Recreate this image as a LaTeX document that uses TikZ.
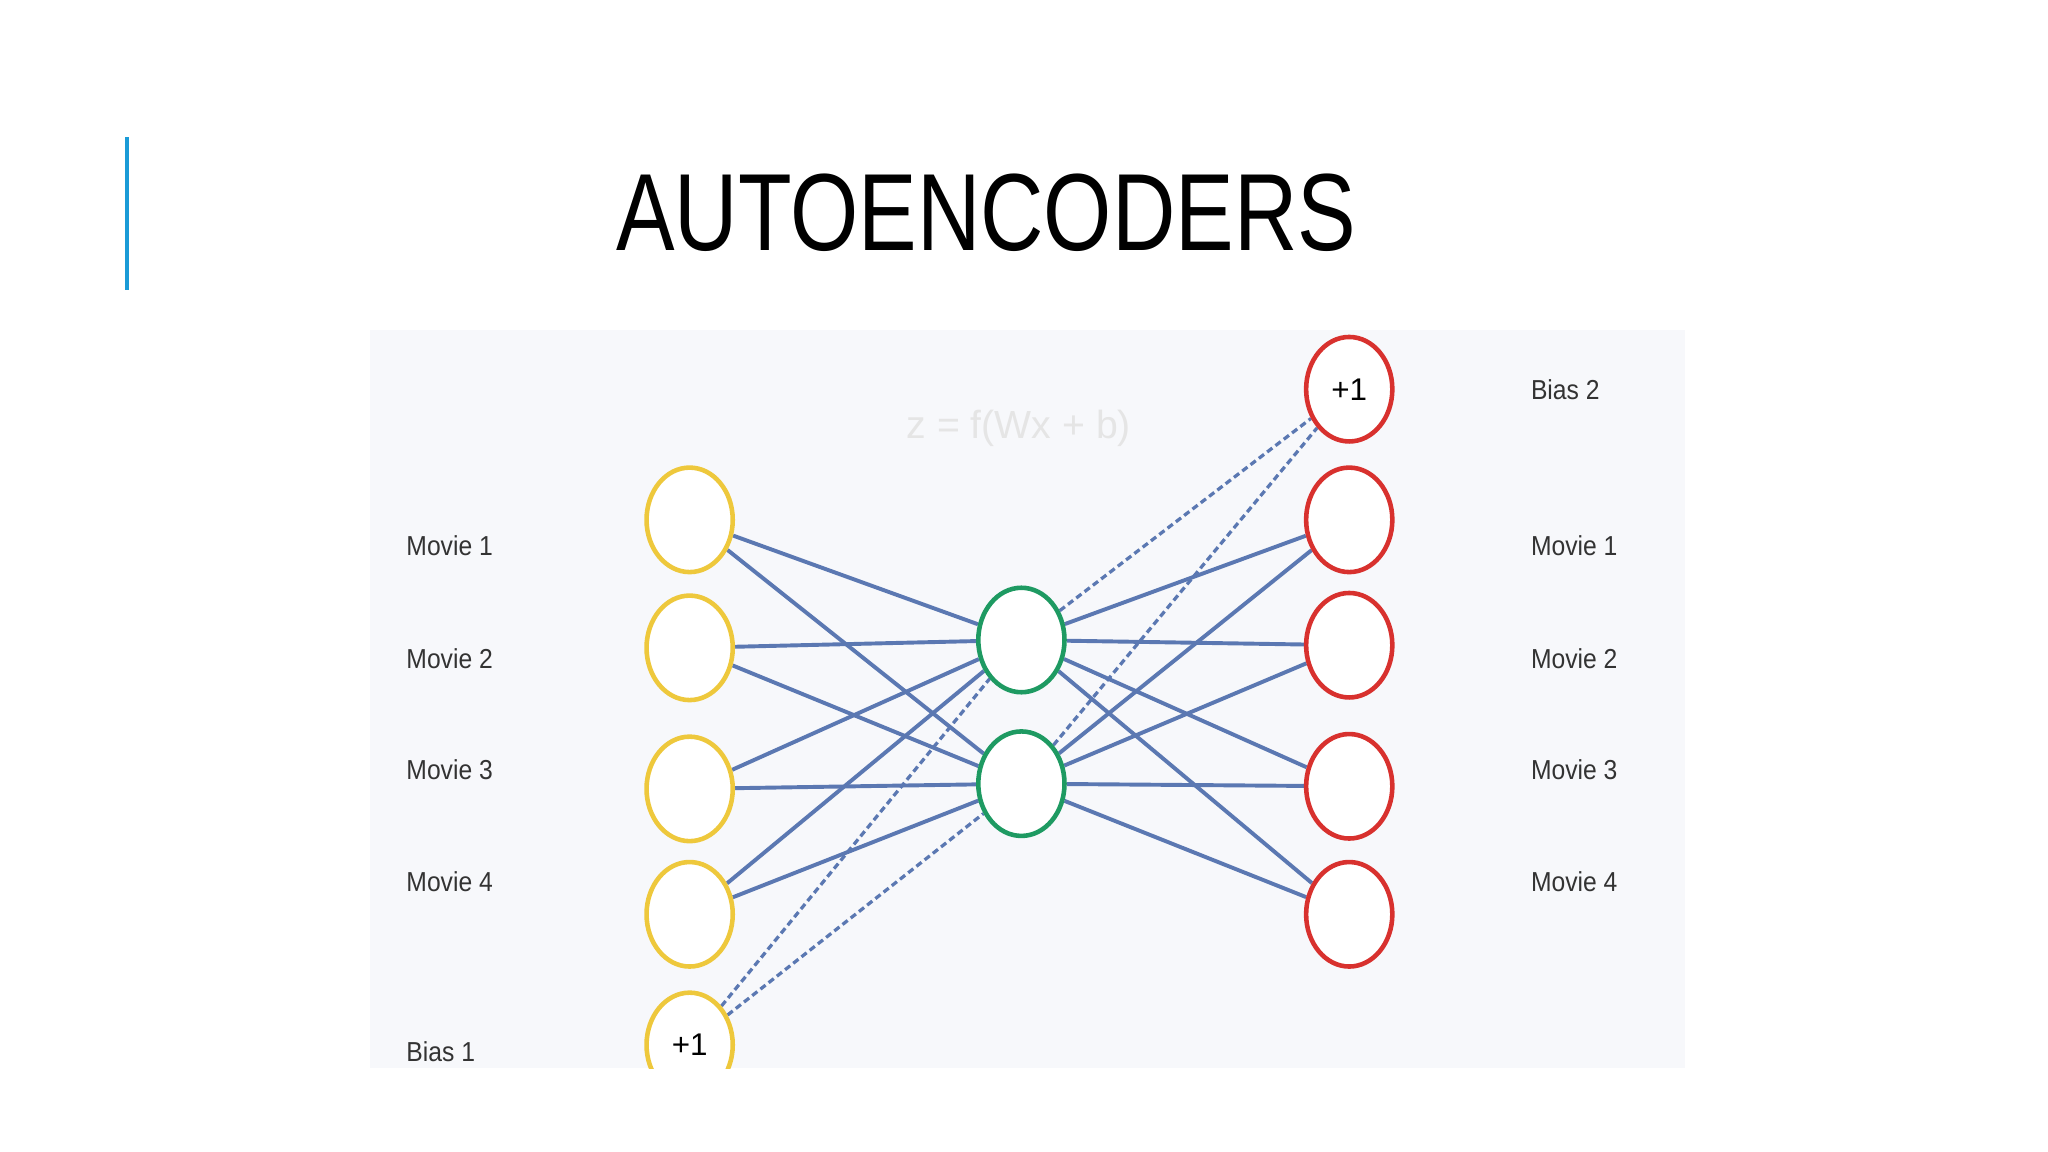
\documentclass[tikz,border=0pt]{standalone}
\usepackage{fontspec}
\setmainfont{Liberation Sans}
\usetikzlibrary{shapes.geometric,backgrounds}
\definecolor{ybl}{HTML}{EEC83C}
\definecolor{gbl}{HTML}{1E9A62}
\definecolor{rbl}{HTML}{D8312E}
\definecolor{lnk}{HTML}{5B78B2}
\definecolor{bar}{HTML}{1A9BD7}
\definecolor{pnl}{HTML}{F7F8FB}
\begin{document}
\begin{tikzpicture}[x=1pt,y=-1pt,
 neu/.style={ellipse,draw,line width=3.5pt,minimum width=66pt,minimum height=80pt,inner sep=0pt,fill=white},
 yn/.style={neu,draw=ybl}, gn/.style={neu,draw=gbl}, rn/.style={neu,draw=rbl},
 lk/.style={draw=lnk,line width=3pt},
 dk/.style={draw=lnk,line width=2.5pt,dash pattern=on 5pt off 3pt},
 lab/.style={anchor=west,font=\fontsize{21}{24}\selectfont,text=black!80,xscale=0.9},
 ntx/.style={font=\fontsize{24}{28}\selectfont}]
\useasboundingbox (0,0) rectangle (1568,882);
\begin{pgfonlayer}{background}
\fill[white] (0,0) rectangle (1568,882);
\fill[pnl] (283,253) rectangle (1290,818);
\end{pgfonlayer}
\node[xscale=0.8,font=\fontsize{84}{90}\selectfont] (title) at (755,163) {AUTOENCODERS};
\node[text=black!10,font=\fontsize{30}{34}\selectfont] (fx) at (780,328) {z = f(Wx + b)};
\begin{scope}
\clip (283,253) rectangle (1290,818);
\node[yn] (y1) at (528,398) {};
\node[yn] (y2) at (528,496) {};
\node[yn] (y3) at (528,604) {};
\node[yn] (y4) at (528,700) {};
\node[yn,ntx] (b1) at (528,800) {+1};
\node[gn] (g1) at (782,490) {};
\node[gn] (g2) at (782,600) {};
\node[rn,ntx] (b2) at (1033,298) {+1};
\node[rn] (r1) at (1033,398) {};
\node[rn] (r2) at (1033,494) {};
\node[rn] (r3) at (1033,602) {};
\node[rn] (r4) at (1033,700) {};
\begin{pgfonlayer}{background}
\foreach \a in {y1,y2,y3,y4}{\foreach \b in {g1,g2}{\draw[lk] (\a) -- (\b);}}
\foreach \a in {r1,r2,r3,r4}{\foreach \b in {g1,g2}{\draw[lk] (\b) -- (\a);}}
\foreach \b in {g1,g2}{\draw[dk] (b1) -- (\b); \draw[dk] (\b) -- (b2);}
\end{pgfonlayer}
\end{scope}
\draw[bar,line width=3pt] (97,105) -- (97,222);
\node[lab] (l1) at (308,418) {Movie 1};
\node[lab] (l2) at (308,504) {Movie 2};
\node[lab] (l3) at (308,589) {Movie 3};
\node[lab] (l4) at (308,675) {Movie 4};
\node[lab] (l5) at (308,805) {Bias 1};
\node[lab] (m0) at (1169,298) {Bias 2};
\node[lab] (m1) at (1169,418) {Movie 1};
\node[lab] (m2) at (1169,504) {Movie 2};
\node[lab] (m3) at (1169,589) {Movie 3};
\node[lab] (m4) at (1169,675) {Movie 4};
\end{tikzpicture}
\end{document}
